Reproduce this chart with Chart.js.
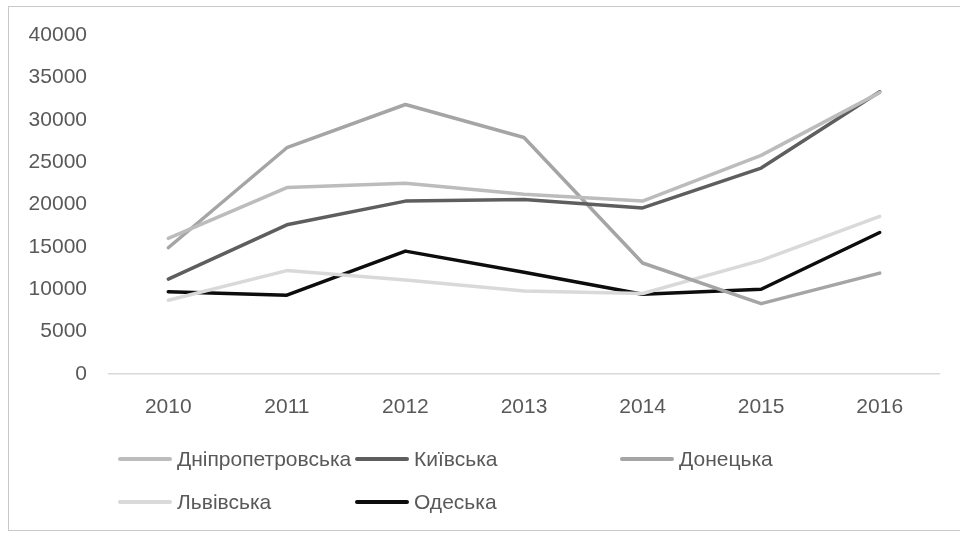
<!DOCTYPE html>
<html>
<head>
<meta charset="utf-8">
<script src="https://cdn.jsdelivr.net/npm/chart.js@4.4.1/dist/chart.umd.min.js"></script>
<style>
    html, body { margin: 0; padding: 0; background: #fff; }
    #wrap { position: relative; width: 960px; height: 535px; overflow: hidden; }
    #frame {
        position: absolute; left: 8px; top: 6px; width: 980px; height: 525px;
        border: 1.5px solid #c9c9c9; box-sizing: border-box;
    }
    #chart { position: absolute; left: 0; top: 0; }
    #legend { position: absolute; left: 0; top: 0; width: 960px; height: 535px; pointer-events: none; }
    .item { position: absolute; display: flex; align-items: center; height: 26px;
        font: 21px "Liberation Sans", Arial, sans-serif; color: #595959; }
    .item span.swatch { display: inline-block; width: 54px; height: 4px; border-radius: 2px; margin-right: 5px; }
</style>
</head>
<body>
<div id="wrap">
    <div id="frame"></div>
    <canvas id="chart" width="960" height="535"></canvas>
    <div id="legend"></div>
</div>
<script>
// Дані
const years = ['2010', '2011', '2012', '2013', '2014', '2015', '2016']
const yTicks = [0, 5000, 10000, 15000, 20000, 25000, 30000, 35000, 40000]

const dnipro = [16000, 22000, 22500, 21200, 20400, 25800, 33200]
const kyiv = [11200, 17600, 20400, 20600, 19600, 24300, 33300]
const donetsk = [14900, 26700, 31800, 27900, 13100, 8300, 11900]
const lviv = [8700, 12200, 11100, 9800, 9500, 13400, 18600]
const odesa = [9700, 9300, 14500, 12000, 9400, 10000, 16700]

const seriesNames = ['Дніпропетровська', 'Київська', 'Донецька', 'Львівська', 'Одеська']
const seriesColors = ['#bcbcbc', '#5e5e5e', '#a5a5a5', '#d9d9d9', '#0d0d0d']
const seriesValues = [dnipro, kyiv, donetsk, lviv, odesa]

const font = { family: '"Liberation Sans", Arial, sans-serif', size: 21 }

const chart = new Chart(document.getElementById('chart'), {
    type: 'line',
    data: {
        labels: years,
        datasets: seriesNames.map((name, i) => ({
            label: name,
            data: seriesValues[i],
            borderColor: seriesColors[i],
            backgroundColor: seriesColors[i],
            borderWidth: 3.5,
            pointRadius: 0,
            tension: 0,
            borderCapStyle: 'round',
            borderJoinStyle: 'round'
        }))
    },
    options: {
        responsive: false,
        animation: false,
        layout: { padding: { left: 0, top: 35, right: 21, bottom: 0 } },
        plugins: {
            legend: { display: false },
            tooltip: { enabled: false }
        },
        scales: {
            x: {
                offset: true,
                grid: { display: false, drawTicks: false, offset: true },
                border: { display: true, color: '#d9d9d9', width: 1.5 },
                ticks: { color: '#595959', font, padding: 21, maxRotation: 0 },
                afterFit: (scale) => { scale.height = 161 }
            },
            y: {
                min: 0,
                max: 40000,
                grid: { display: false, drawTicks: false },
                border: { display: false },
                afterBuildTicks: (scale) => {
                    scale.ticks = yTicks.map((v) => ({ value: v }))
                },
                ticks: {
                    color: '#595959',
                    font,
                    padding: 22,
                    callback: function (value) {
                        return String(value) // без ком
                    }
                },
                afterFit: (scale) => { scale.width = 109 }
            }
        }
    }
})

// Легенда як у Excel (сітка)
const legendPos = [
    [118, 459], [355, 459], [620, 459],
    [118, 502], [355, 502]
]
const legendEl = document.getElementById('legend')
chart.data.datasets.forEach((ds, i) => {
    const item = document.createElement('div')
    item.className = 'item'
    item.style.left = legendPos[i][0] + 'px'
    item.style.top = (legendPos[i][1] - 13) + 'px'
    const sw = document.createElement('span')
    sw.className = 'swatch'
    sw.style.background = ds.borderColor
    item.appendChild(sw)
    item.appendChild(document.createTextNode(ds.label))
    legendEl.appendChild(item)
})
</script>
</body>
</html>
